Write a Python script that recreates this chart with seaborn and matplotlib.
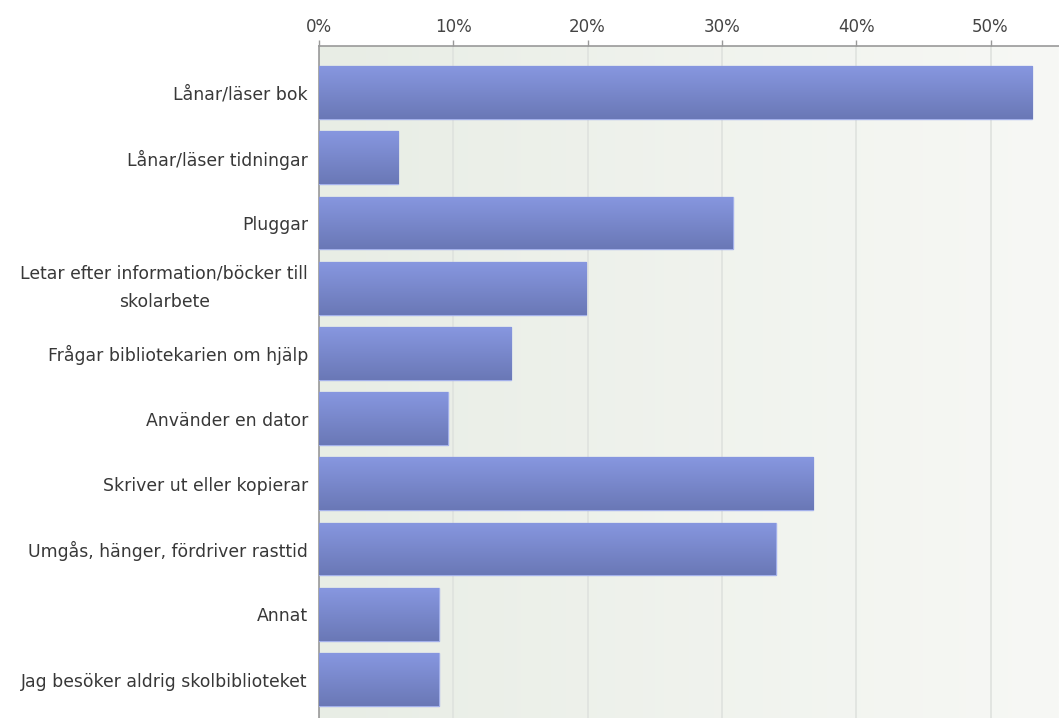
import numpy as np
import pandas as pd
import seaborn as sns
import matplotlib
matplotlib.use("Agg")
import matplotlib.pyplot as plt
from matplotlib.colors import LinearSegmentedColormap
from matplotlib.ticker import FuncFormatter

categories = [
    "Lånar/läser bok",
    "Lånar/läser tidningar",
    "Pluggar",
    "Letar efter information/böcker till\nskolarbete",
    "Frågar bibliotekarien om hjälp",
    "Använder en dator",
    "Skriver ut eller kopierar",
    "Umgås, hänger, fördriver rasttid",
    "Annat",
    "Jag besöker aldrig skolbiblioteket",
]
percent = [53.1, 5.9, 30.8, 19.9, 14.3, 9.6, 36.8, 34.0, 8.9, 8.9]
xticks = [0, 10, 20, 30, 40, 50]


def draw_chart():
    sns.set_theme(style="white")
    plt.rcParams['font.family'] = ['DejaVu Sans']
    df = pd.DataFrame({"cat": categories, "pct": percent})

    fig = plt.figure(figsize=(10.59, 7.18), dpi=100)
    ax = fig.add_axes([319 / 1059, 0.0, 1 - 319 / 1059, 1 - 46 / 718])

    sns.barplot(data=df, x="pct", y="cat", orient="h", width=0.81,
                color="#7a89cc", edgecolor="#a3b0ea", linewidth=1.0,
                saturation=1, ax=ax, zorder=3)

    ax.set_xlim(0, 55.1)
    ax.set_ylim(9.59, -0.713)

    # background gradient (left darker green-gray -> right near white)
    bg = LinearSegmentedColormap.from_list("bg", ["#e8ede5", "#f7f8f5"])
    ax.imshow(np.linspace(0, 1, 256).reshape(1, -1), cmap=bg, aspect="auto",
              extent=[0, 55.1, 9.59, -0.713], zorder=0)

    # vertical gradient on bars
    barcm = LinearSegmentedColormap.from_list("bar", ["#8797e0", "#6a78b6"])
    grad = np.linspace(0, 1, 128).reshape(-1, 1)
    for p in ax.patches:
        x0, y0 = p.get_x(), p.get_y()
        w, h = p.get_width(), p.get_height()
        im = ax.imshow(grad, cmap=barcm, aspect="auto",
                       extent=[x0, x0 + w, y0 + h, y0], zorder=3.5)
        im.set_clip_path(p)

    ax.set_xticks(xticks)
    ax.xaxis.set_major_formatter(FuncFormatter(lambda v, _: f"{v:.0f}%"))
    ax.xaxis.tick_top()
    ax.tick_params(axis="x", which="both", top=True, bottom=False, length=4,
                   width=1, color="#999999", direction="out", pad=3,
                   labelsize=12, labelcolor="#444444")
    ax.tick_params(axis="y", left=False, length=0, pad=8, labelsize=12.4,
                   labelcolor="#383838")
    for lab in ax.get_yticklabels():
        if "\n" in lab.get_text():
            lab.set_multialignment("center")
            lab.set_linespacing(1.75)
            lab.set_verticalalignment("center")

    ax.grid(axis="x", color="#dfe2de", linewidth=1.2, zorder=1)
    ax.set_axisbelow(True)
    ax.set_xlabel("")
    ax.set_ylabel("")

    for side in ["right", "bottom"]:
        ax.spines[side].set_visible(False)
    ax.spines['top'].set_color("#999999")
    ax.spines['left'].set_color("#999999")
    ax.spines['top'].set_linewidth(1.2)
    ax.spines['left'].set_linewidth(1.2)

    fig.savefig("out.png", dpi=100, facecolor="white")


if __name__ == '__main__':
    draw_chart()
